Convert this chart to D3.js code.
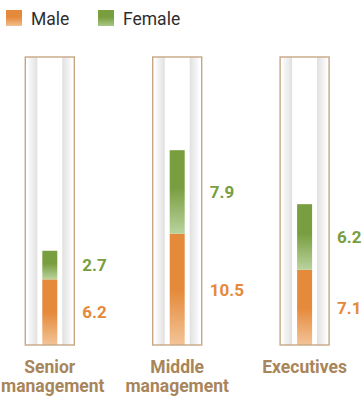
<!DOCTYPE html>
<html>
<head>
<meta charset="utf-8">
<script src="https://cdn.jsdelivr.net/npm/d3@7"></script>
<style>
  html, body { margin: 0; padding: 0; background: #fff; }
  svg { display: block; font-family: Roboto, "Noto Sans", sans-serif; }
</style>
</head>
<body>
<svg id="chart" width="362" height="396"></svg>
<script>
// Workforce split by level (values per category, stacked Male below Female)
const categories = ["Senior management", "Middle management", "Executives"];
const categoryLines = [["Senior", "management"], ["Middle", "management"], ["Executives"]];
const male = [6.2, 10.5, 7.1];
const female = [2.7, 7.9, 6.2];
const seriesNames = ["Male", "Female"];

const W = 362;
const svg = d3.select("#chart");
const defs = svg.append("defs");

const orange = "#e5893a", orangeLight = "#f3c497";
const green = "#799e3f", greenLight = "#bad39e";
const labelBrown = "#a8855a";

function vGrad(id, top, bottom, solidUntil) {
  const g = defs.append("linearGradient").attr("id", id)
    .attr("x1", 0).attr("y1", 0).attr("x2", 0).attr("y2", 1);
  g.append("stop").attr("offset", 0).attr("stop-color", top);
  g.append("stop").attr("offset", solidUntil).attr("stop-color", top);
  g.append("stop").attr("offset", 1).attr("stop-color", bottom);
}
vGrad("gMale", orange, orangeLight, 0.5);
vGrad("gFemale", green, greenLight, 0.45);
vGrad("gMaleKey", orange, "#f2c08f", 0.45);
vGrad("gFemaleKey", green, "#a9c685", 0.45);

// Glass-tube side shading
const sl = defs.append("linearGradient").attr("id", "stripL")
  .attr("x1", 0).attr("y1", 0).attr("x2", 1).attr("y2", 0);
sl.append("stop").attr("offset", 0).attr("stop-color", "#fafafa");
sl.append("stop").attr("offset", 0.8).attr("stop-color", "#e6e6e6");
sl.append("stop").attr("offset", 1).attr("stop-color", "#dedede");
const sr = defs.append("linearGradient").attr("id", "stripR")
  .attr("x1", 0).attr("y1", 0).attr("x2", 1).attr("y2", 0);
sr.append("stop").attr("offset", 0).attr("stop-color", "#dedede");
sr.append("stop").attr("offset", 0.2).attr("stop-color", "#e6e6e6");
sr.append("stop").attr("offset", 1).attr("stop-color", "#fafafa");

// Scales
const x = d3.scalePoint().domain(categories).range([49.8, 304.6]);
const boxTop = 57, boxBottom = 345;
const y = d3.scaleLinear().domain([0, 27.2]).range([boxBottom, boxTop]);

const boxW = 49, barW = 15;

const data = categories.map((c, i) => ({ cat: c, male: male[i], female: female[i], lines: categoryLines[i] }));

const col = svg.append("g").selectAll("g.col").data(data).join("g").attr("class", "col")
  .attr("transform", d => `translate(${x(d.cat)},0)`);

// Tube
col.append("rect")
  .attr("x", -boxW / 2).attr("y", boxTop)
  .attr("width", boxW).attr("height", boxBottom - boxTop)
  .attr("fill", "#fff");
col.append("rect")
  .attr("x", -boxW / 2 + 3).attr("y", boxTop)
  .attr("width", 9).attr("height", boxBottom - boxTop)
  .attr("fill", "url(#stripL)");
col.append("rect")
  .attr("x", boxW / 2 - 12).attr("y", boxTop)
  .attr("width", 9).attr("height", boxBottom - boxTop)
  .attr("fill", "url(#stripR)");

// Stacked bars
col.append("rect")
  .attr("x", -barW / 2).attr("width", barW)
  .attr("y", d => y(d.male))
  .attr("height", d => y(0) - y(d.male))
  .attr("fill", "url(#gMale)");
col.append("rect")
  .attr("x", -barW / 2).attr("width", barW)
  .attr("y", d => y(d.male + d.female))
  .attr("height", d => y(d.male) - y(d.male + d.female))
  .attr("fill", "url(#gFemale)");

// Tube outline
col.append("rect")
  .attr("x", -boxW / 2).attr("y", boxTop)
  .attr("width", boxW).attr("height", boxBottom - boxTop)
  .attr("fill", "none")
  .attr("stroke", "#c6a784").attr("stroke-width", 1.4);

// Value labels, centred on each segment
col.append("text")
  .attr("x", boxW / 2 + 8)
  .attr("y", d => (y(d.male + d.female) + y(d.male)) / 2)
  .attr("dy", "0.36em")
  .attr("font-size", 17).attr("font-weight", 700)
  .attr("fill", green)
  .text(d => d.female);
col.append("text")
  .attr("x", boxW / 2 + 8)
  .attr("y", d => (y(d.male) + y(0)) / 2)
  .attr("dy", "0.36em")
  .attr("font-size", 17).attr("font-weight", 700)
  .attr("fill", orange)
  .text(d => d.male);

// Category labels (kept inside the canvas edges)
col.append("text")
  .attr("text-anchor", "middle")
  .attr("font-size", 17.5).attr("font-weight", 700)
  .attr("fill", labelBrown)
  .selectAll("tspan").data(d => d.lines).join("tspan")
  .attr("x", 0)
  .attr("y", (d, i) => 373 + i * 19)
  .text(d => d)
  .each(function () {
    const t = d3.select(this);
    const cx = x(d3.select(this.parentNode).datum().cat);
    const w = this.getComputedTextLength();
    let shift = 0;
    if (cx - w / 2 < 1) shift = 1 - (cx - w / 2);
    if (cx + w / 2 > W - 1) shift = (W - 1) - (cx + w / 2);
    t.attr("x", shift);
  });

// Legend
const keyX = [6, 98];
const keyFill = ["url(#gMaleKey)", "url(#gFemaleKey)"];
const item = svg.append("g").selectAll("g").data(seriesNames).join("g")
  .attr("transform", (d, i) => `translate(${keyX[i]},10)`);
item.append("rect").attr("width", 16).attr("height", 16)
  .attr("fill", (d, i) => keyFill[i]);
item.append("text").attr("x", 25).attr("y", 15)
  .attr("font-size", 17.5).attr("fill", "#2e2e2e")
  .text(d => d);
</script>
</body>
</html>
